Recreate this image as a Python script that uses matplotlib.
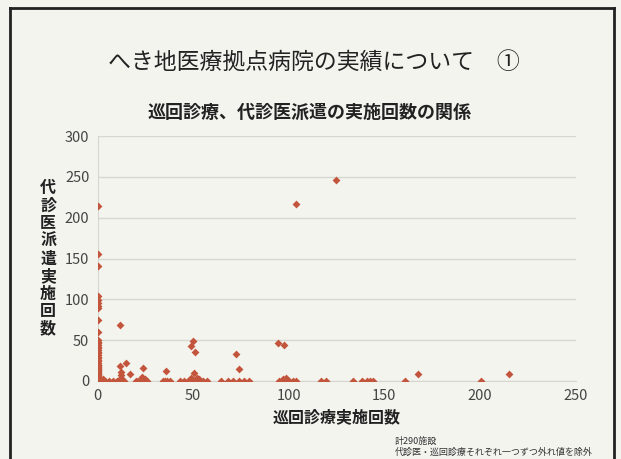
import matplotlib.pyplot as plt
from matplotlib.lines import Line2D

plt.rcParams['font.family'] = ['Noto Sans CJK JP', 'DejaVu Sans']

# 巡回診療 (x) / 代診医派遣 (y) 実施回数
col0_y = [0, 1, 2, 3, 4, 5, 6, 7, 8, 9, 10, 11, 12, 13, 14, 15, 16, 17, 18, 19,
          20, 22, 24, 26, 28, 30, 32, 34, 36, 38, 40, 42, 44, 46, 48, 50,
          60, 75, 89, 92, 95, 99, 104, 141, 155, 214]

row0_x = [2, 4, 6, 8, 10, 11, 12.5, 13.7, 20, 21, 22, 23, 24, 25, 26,
          34, 35, 36, 37.7, 43, 45, 47, 48, 49, 50, 51.6, 53.3, 55, 57,
          64.6, 68, 70.7, 74, 76.7, 79.3, 95, 96.7, 100, 102, 104,
          116.7, 119.3, 133.5, 138.4, 141, 142.7, 143.9, 160.6, 200.5]

other_x = [1, 3, 11.8, 124.7, 103.7, 15, 11.8, 12, 12, 12, 16.8, 23.8, 23, 25,
           35.8, 49.8, 48.6, 50.7, 50.5, 49, 52, 53, 72.4, 73.7, 94.4, 97.7,
           98.6, 97, 167.7, 215.3]
other_y = [3, 2, 68.6, 246, 217, 22, 18, 11, 7, 4, 8.5, 16, 5, 3,
           12.7, 49.5, 43, 36, 9.5, 4, 4, 2, 33, 14.5, 46, 44,
           4, 2, 8, 8]

xs = [0] * len(col0_y) + row0_x + other_x
ys = col0_y + [0] * len(row0_x) + other_y

bg = '#f4f4ef'
fig = plt.figure(figsize=(6.21, 4.59), dpi=100)
fig.patch.set_facecolor(bg)

# slide frame (left, top, right)
fig.add_artist(Line2D([10/621, 10/621], [0, 1 - 8/459], transform=fig.transFigure, color='#222222', lw=2))
fig.add_artist(Line2D([10/621, 614/621], [1 - 8/459, 1 - 8/459], transform=fig.transFigure, color='#222222', lw=2))
fig.add_artist(Line2D([614/621, 614/621], [0, 1 - 8/459], transform=fig.transFigure, color='#222222', lw=2))

ax = fig.add_axes([97.7/621, 1 - 381/459, (575.5 - 97.7)/621, (381 - 136)/459])
ax.set_facecolor(bg)
ax.scatter(xs, ys, marker='D', s=16, color='#c4553d', zorder=3, linewidths=0)

ax.set_xlim(0, 250)
ax.set_ylim(0, 300)
ax.set_xticks([0, 50, 100, 150, 200, 250])
ax.set_yticks([0, 50, 100, 150, 200, 250, 300])
ax.grid(axis='y', color='#d4d8d0', lw=1)
ax.set_axisbelow(True)
for sp in ['top', 'right']:
    ax.spines[sp].set_visible(False)
ax.spines['left'].set_color('#d4d8d0')
ax.spines['bottom'].set_color('#d4d8d0')
ax.tick_params(length=0, labelsize=10.5, labelcolor='#444444', pad=6)

ax.set_xlabel('巡回診療実施回数', fontsize=11.5, fontweight='bold', color='#222222', labelpad=4)
ax.set_ylabel('\n'.join('代診医派遣実施回数'), fontsize=11.5, fontweight='bold',
              color='#222222', rotation=0, va='center', linespacing=1.12, labelpad=12)

fig.text(314/621, 1 - 62/459, 'へき地医療拠点病院の実績について　①', fontsize=16.5,
         ha='center', va='center', color='#222222')
fig.text(310/621, 1 - 112/459, '巡回診療、代診医派遣の実施回数の関係', fontsize=13,
         fontweight='bold', ha='center', va='center', color='#222222')
fig.text(395/621, 1 - 441/459, '計290施設', fontsize=6.5, ha='left', va='center', color='#333333')
fig.text(395/621, 1 - 452/459, '代診医・巡回診療それぞれ一つずつ外れ値を除外', fontsize=6.5,
         ha='left', va='center', color='#333333')

fig.savefig('out.png', dpi=100, facecolor=bg)
